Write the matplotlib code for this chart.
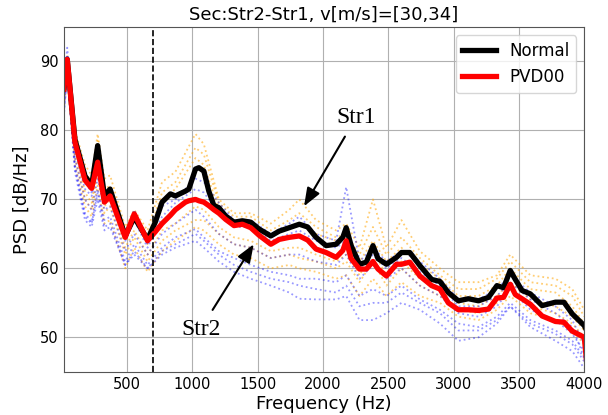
import numpy as np
import matplotlib
matplotlib.use("Agg")
from matplotlib import pyplot as plt

# mean curves
freq = [15, 41, 100, 177, 228, 274, 326, 369, 485, 554, 656, 715, 767, 831, 869, 946, 972,
        1023, 1049, 1087, 1125, 1164, 1202, 1254, 1318, 1382, 1446, 1510, 1600, 1664, 1741,
        1818, 1882, 1946, 2023, 2100, 2151, 2177, 2215, 2279, 2331, 2382, 2421, 2485, 2562,
        2600, 2664, 2741, 2831, 2895, 2959, 3036, 3113, 3190, 3267, 3331, 3382, 3433, 3472,
        3523, 3587, 3677, 3779, 3844, 3908, 4000, 4030]
normal = [86.0, 90.3, 78.7, 73.4, 72.0, 77.8, 70.5, 71.5, 64.7, 67.4, 64.2, 66.7, 69.6, 70.8,
          70.5, 71.2, 71.5, 74.4, 74.6, 74.1, 71.2, 69.1, 68.8, 67.6, 66.7, 66.9, 66.7, 65.7,
          64.7, 65.4, 65.9, 66.4, 66.0, 64.5, 63.3, 63.5, 64.5, 65.9, 63.3, 60.6, 60.9, 63.3,
          61.4, 60.6, 61.6, 62.3, 62.3, 60.4, 58.4, 58.1, 56.5, 55.3, 55.6, 55.3, 55.8, 57.5,
          57.2, 59.7, 58.4, 56.8, 56.3, 54.6, 55.1, 55.1, 53.4, 51.7, 50.5]
pvd00 = [86.0, 90.3, 78.3, 72.8, 71.6, 75.4, 69.6, 70.5, 64.5, 67.9, 64.0, 65.3, 66.5, 67.7,
         68.5, 69.6, 69.8, 70.0, 69.8, 69.6, 69.1, 68.5, 68.0, 67.1, 66.2, 66.4, 65.9, 64.8,
         63.5, 64.2, 64.5, 64.7, 64.1, 62.8, 62.3, 61.6, 62.6, 64.0, 61.4, 59.9, 59.9, 61.0,
         59.9, 58.9, 60.6, 60.6, 60.9, 58.9, 57.5, 57.0, 55.0, 54.0, 54.0, 53.9, 54.1, 55.7,
         55.8, 57.7, 56.2, 55.6, 54.8, 53.1, 52.3, 52.2, 50.9, 50.0, 44.0]

# individual records (coarser grid)
freq_s = [15, 41, 100, 177, 228, 274, 326, 369, 485, 554, 656, 767, 869, 1023, 1087, 1202,
          1318, 1446, 1600, 1741, 1818, 1946, 2100, 2177, 2279, 2382, 2485, 2600, 2741, 2895,
          3036, 3190, 3331, 3433, 3587, 3779, 3908, 4000]
orange_runs = [
    [87, 91, 80, 75, 73.5, 79.5, 73, 73.5, 66, 68.5, 65.5, 72.5, 74, 79.5, 78, 70, 68, 68,
     66.5, 68.5, 70, 67, 65.5, 66.5, 63, 70, 63, 67, 62.5, 60, 58, 58, 59, 62, 59, 58.5, 57, 54],
    [88, 90.5, 79, 74, 72.5, 78.5, 71.5, 72, 65, 68, 64.5, 71, 72.5, 77.5, 76.5, 69.5, 67.5,
     67.5, 65.5, 67, 68, 66, 64.5, 65, 62, 66, 62, 64.5, 61.5, 59, 57, 57, 58.5, 61, 58, 57.5, 56, 53],
    [86, 90, 78, 73, 71.5, 77, 70.5, 71, 64, 67, 63.5, 70, 71.5, 76, 75, 68.5, 66.5, 66.5,
     64.5, 66, 66.5, 65, 64, 64.5, 61, 64, 61, 63, 60.5, 58.5, 56, 56, 57.5, 60, 57, 56.5, 54.5, 52],
    [85, 89.5, 77, 71, 69.5, 75, 69, 70, 63, 65.5, 62, 65.5, 66.5, 69, 68.5, 66, 64.5, 64,
     62.5, 63, 63, 62, 61, 62, 59, 62.5, 59, 61, 58.5, 57, 55, 54.5, 56, 58, 55.5, 54.5, 53, 51],
    [84, 89, 76, 70, 68.5, 74, 68, 69, 62, 64.5, 61, 64, 65.5, 67, 67, 65, 63.5, 63, 61.5, 62,
     61.5, 61, 60, 61, 58, 61, 57.5, 60, 57.5, 56, 54, 53.5, 55, 57, 54.5, 53.5, 52, 50],
    [83, 88, 75, 69, 67.5, 72, 66.5, 67, 60, 63, 59.5, 62.5, 64, 66, 65.5, 63.5, 62, 61.5, 60,
     60.5, 60, 59.5, 58.5, 59, 56, 58.5, 56, 58, 56, 55, 53, 52.5, 54, 56, 53.5, 52.5, 51, 49],
]
blue_runs = [
    [87, 92, 78.5, 72.5, 71, 76, 71, 71, 65, 68.5, 63.5, 69, 70, 73, 72.5, 69.5, 67, 67, 65,
     66.5, 67.5, 65, 64, 71.8, 61, 63, 61, 62.5, 61, 58.5, 55.5, 55.5, 57, 59, 56.5, 54.5, 52.5, 49],
    [85, 91, 77, 71.5, 70.5, 74.5, 70, 70, 64, 67, 63, 67.5, 69.5, 71.5, 71, 68, 66, 66, 64,
     65, 65.5, 64, 63, 64, 60, 62, 60, 61.5, 59.5, 57.5, 54.5, 54.5, 56, 58, 55.5, 53.5, 51.5, 47],
    [84, 90, 76, 70, 68.5, 73, 68.5, 69, 62.5, 65, 62, 65, 66.5, 68.5, 67.5, 65, 63.5, 63,
     61.5, 62, 62, 61, 60.5, 62, 58.5, 60.5, 58.5, 60, 57.5, 56, 53.5, 53, 54.5, 57, 54, 52.5, 50.5, 48],
    [83, 89, 75, 68, 66.7, 71.5, 67, 67.5, 61, 63.5, 60.5, 63, 64.5, 65.7, 64.5, 62.5, 61.5,
     60.5, 59.5, 59, 58.5, 58.5, 58, 59, 56, 57, 56, 57.5, 55.5, 54, 52, 51.5, 53, 55, 52.5, 51, 49.5, 47],
    [82.5, 88, 74.5, 67.5, 66.5, 71, 66, 66.5, 60.5, 62.5, 60, 62.5, 63.5, 65, 64, 62, 60.5,
     59.5, 58.5, 58, 57.5, 57, 56.5, 57.5, 54.5, 55, 55, 56.5, 55, 53.5, 51, 51, 52.5, 54.5, 52, 50.5, 49, 46.5],
    [82, 88.5, 74, 67, 66, 70, 65.5, 66, 60.5, 62, 60, 62, 63, 64, 63, 61, 59.5, 58.5, 57.5,
     56.5, 55.6, 55.5, 55.5, 56, 52.5, 52.5, 53.5, 55, 54, 52, 49.5, 50, 52, 54.5, 51.5, 49.5, 48, 45.5],
]

fig = plt.figure(figsize=(6.08, 4.15), dpi=100)
ax = fig.add_axes([0.105, 0.104, 0.856, 0.831])

for run in orange_runs:
    ax.plot(freq_s, run, ':', color='orange', lw=1.3, alpha=0.55)
for run in blue_runs:
    ax.plot(freq_s, run, ':', color='blue', lw=1.3, alpha=0.4)

ax.plot(freq, normal, color='black', lw=3.8, label='Normal')
ax.plot(freq, pvd00, color='red', lw=3.8, label='PVD00')

ax.axvline(700, color='black', ls='--', lw=1.2)

arrow = dict(arrowstyle='-|>,head_width=0.25,head_length=0.65', color='black', lw=1.5,
             shrinkA=5, shrinkB=0)
ax.annotate('Str1', xy=(1854, 69.0), xytext=(2254, 81.9), ha='center', va='center',
            fontsize=17, family='Liberation Serif', arrowprops=arrow)
ax.annotate('Str2', xy=(1469, 63.5), xytext=(1062, 51.2), ha='center', va='center',
            fontsize=17, family='Liberation Serif', arrowprops=arrow)

ax.set_xlim(15, 4000)
ax.set_ylim(45, 95)
ax.set_xticks([500, 1000, 1500, 2000, 2500, 3000, 3500, 4000])
ax.set_yticks([50, 60, 70, 80, 90])
ax.tick_params(labelsize=10.5, length=0, pad=4)
for s in ax.spines.values():
    s.set_color('#555555')
ax.grid(True, color='#b0b0b0', lw=0.8)
ax.set_xlabel('Frequency (Hz)', fontsize=13, labelpad=2)
ax.set_ylabel('PSD [dB/Hz]', fontsize=13, labelpad=6)
ax.set_title('Sec:Str2-Str1, v[m/s]=[30,34]', fontsize=13, pad=5)
ax.legend(loc='upper right', fontsize=12)

fig.savefig('out.png', dpi=100)
